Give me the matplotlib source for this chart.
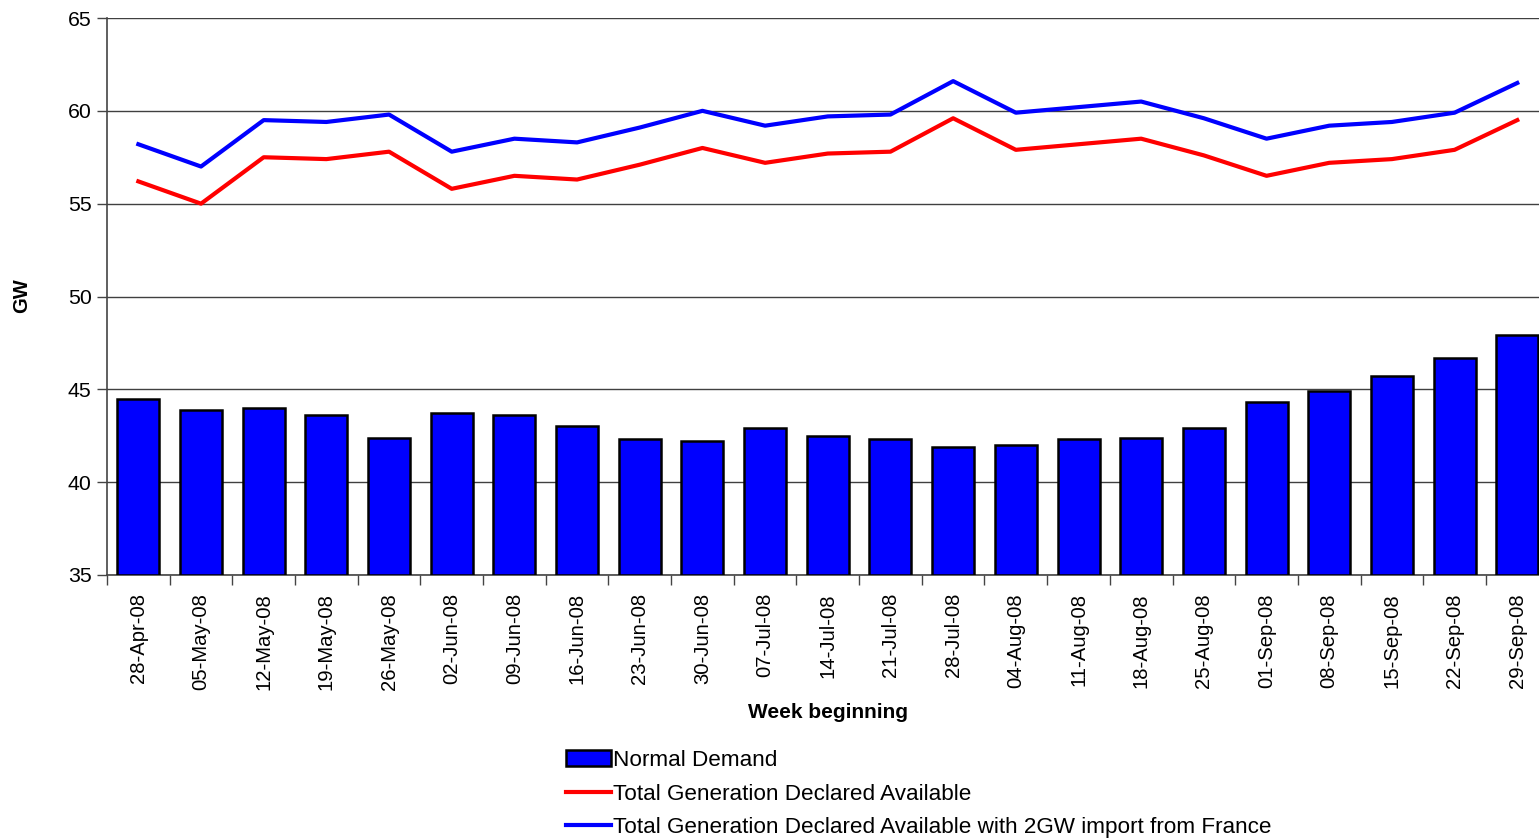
import numpy as np
import matplotlib
matplotlib.use("Agg")
import matplotlib.pyplot as plt
from matplotlib.ticker import FixedLocator

plt.rcParams['font.family'] = ['Liberation Sans', 'DejaVu Sans']

weeks = ["28-Apr-08", "05-May-08", "12-May-08", "19-May-08", "26-May-08",
         "02-Jun-08", "09-Jun-08", "16-Jun-08", "23-Jun-08", "30-Jun-08",
         "07-Jul-08", "14-Jul-08", "21-Jul-08", "28-Jul-08", "04-Aug-08",
         "11-Aug-08", "18-Aug-08", "25-Aug-08", "01-Sep-08", "08-Sep-08",
         "15-Sep-08", "22-Sep-08", "29-Sep-08"]

normal_demand = [44.5, 43.9, 44.0, 43.6, 42.4, 43.7, 43.6, 43.0, 42.3, 42.2,
                 42.9, 42.5, 42.3, 41.9, 42.0, 42.3, 42.4, 42.9, 44.3, 44.9,
                 45.7, 46.7, 47.9]

generation = [56.2, 55.0, 57.5, 57.4, 57.8, 55.8, 56.5, 56.3, 57.1, 58.0,
              57.2, 57.7, 57.8, 59.6, 57.9, 58.2, 58.5, 57.6, 56.5, 57.2,
              57.4, 57.9, 59.5]

generation_france = [58.2, 57.0, 59.5, 59.4, 59.8, 57.8, 58.5, 58.3, 59.1, 60.0,
                     59.2, 59.7, 59.8, 61.6, 59.9, 60.2, 60.5, 59.6, 58.5, 59.2,
                     59.4, 59.9, 61.5]

x = np.arange(len(weeks))

fig = plt.figure(figsize=(15.39, 8.40), dpi=100)
# axes runs a bit past the right edge of the image, as in the original
ax = fig.add_axes([107 / 1539, 1 - 575 / 840, 1441.6 / 1539, 557 / 840])

bars = ax.bar(x, [v - 35 for v in normal_demand], bottom=35, width=0.67,
              color="#0000ff", edgecolor="black", linewidth=1.8, zorder=3)
red_line, = ax.plot(x, generation, color="#ff0000", linewidth=3, zorder=4)
blue_line, = ax.plot(x, generation_france, color="#0000ff", linewidth=3, zorder=4)

ax.set_xlim(-0.5, len(weeks) - 0.5)
ax.set_ylim(35, 65)
ax.set_yticks([35, 40, 45, 50, 55, 60, 65])
ax.yaxis.grid(True, color="#404040", linewidth=1, zorder=0)

ax.set_xticks(x)
ax.set_xticklabels(weeks, rotation=90, fontsize=14.6)
ax.xaxis.set_minor_locator(FixedLocator(np.arange(-0.5, len(weeks), 1.0)))
ax.tick_params(axis="x", which="major", length=0, pad=13)
ax.tick_params(axis="x", which="minor", length=7, width=1, color="#444444")
ax.tick_params(axis="y", labelsize=15.3, length=7, width=1, color="#444444", pad=4)

for s in ["top", "right"]:
    ax.spines[s].set_visible(False)
ax.spines["left"].set_color("#444444")
ax.spines["bottom"].set_color("#444444")
ax.spines["left"].set_linewidth(1.2)
ax.spines["bottom"].set_linewidth(1.2)

fig.text(22 / 1539, 1 - 296 / 840, "GW", rotation=90, fontsize=14.5,
         fontweight="bold", ha="center", va="center")
fig.text(828 / 1539, 1 - 712 / 840, "Week beginning", fontsize=15,
         fontweight="bold", ha="center", va="center")

fig.legend([bars, red_line, blue_line],
           ["Normal Demand", "Total Generation Declared Available",
            "Total Generation Declared Available with 2GW import from France"],
           loc="upper left", bbox_to_anchor=(566 / 1539, 1 - 750 / 840),
           frameon=False, fontsize=16.2, handlelength=2.0, handletextpad=0.1,
           labelspacing=0.56, borderpad=0, borderaxespad=0)

fig.savefig("out.png", dpi=100)
